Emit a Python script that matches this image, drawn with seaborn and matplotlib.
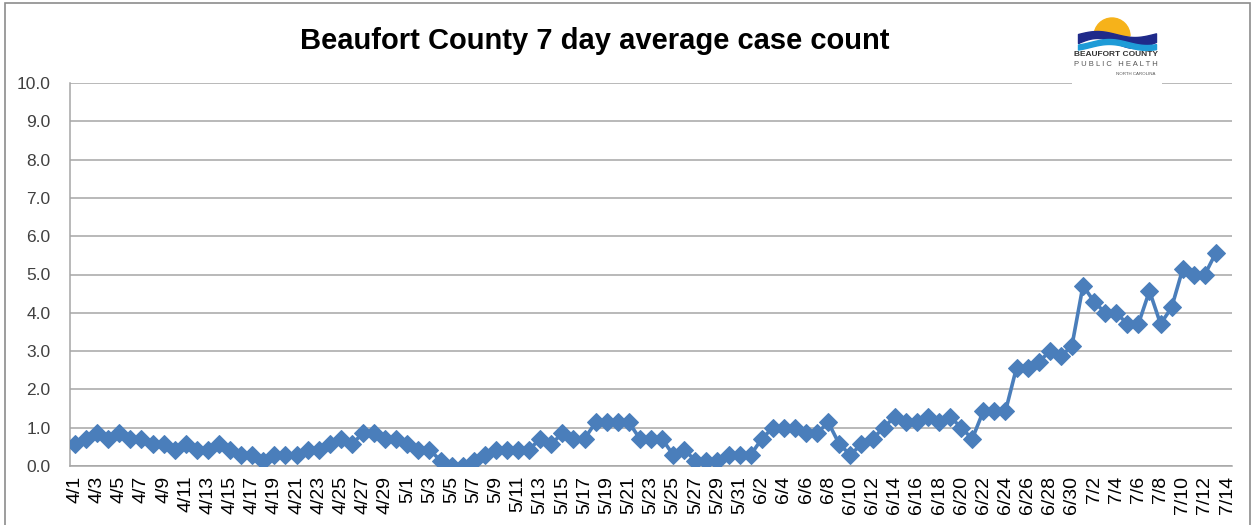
import numpy as np
import pandas as pd
import matplotlib
matplotlib.use('Agg')
import matplotlib.pyplot as plt
import seaborn as sns
from matplotlib.patches import Rectangle, Wedge

# 7 day average, 4/1 .. 7/13 (7/14 has no value yet)
dates = pd.date_range('2020-04-01', '2020-07-14')
labels = [f'{d.month}/{d.day}' for d in dates]

april = [0.57, 0.71, 0.86, 0.71, 0.86, 0.71, 0.71, 0.57, 0.57, 0.43,
         0.57, 0.43, 0.43, 0.57, 0.43, 0.29, 0.29, 0.14, 0.29, 0.29,
         0.29, 0.43, 0.43, 0.57, 0.71, 0.57, 0.86, 0.86, 0.71, 0.71]
may = [0.57, 0.43, 0.43, 0.14, 0.0, 0.0, 0.14, 0.29, 0.43, 0.43,
       0.43, 0.43, 0.71, 0.57, 0.86, 0.71, 0.71, 1.14, 1.14, 1.14,
       1.14, 0.71, 0.71, 0.71, 0.29, 0.43, 0.14, 0.14, 0.14, 0.29, 0.29]
june = [0.29, 0.71, 1.0, 1.0, 1.0, 0.86, 0.86, 1.14, 0.57, 0.29,
        0.57, 0.71, 1.0, 1.29, 1.14, 1.14, 1.29, 1.14, 1.29, 1.0,
        0.71, 1.43, 1.43, 1.43, 2.57, 2.57, 2.71, 3.0, 2.86, 3.14]
july = [4.71, 4.29, 4.0, 4.0, 3.71, 3.71, 4.57, 3.71, 4.14, 5.14,
        5.0, 5.0, 5.57, np.nan]

avg = april + may + june + july
df = pd.DataFrame({'pos': np.arange(len(labels)), 'date': labels, 'avg': avg})

W, H = 1251, 525
fig = plt.figure(figsize=(W / 100, H / 100), dpi=100)
fig.patch.set_facecolor('white')
fig.add_artist(Rectangle((5 / W, -0.01), 1 - 6 / W, 1 - 3 / H + 0.01,
                         transform=fig.transFigure, fill=False,
                         edgecolor='#8c8c8c', linewidth=1.2))

ax = fig.add_axes([70 / W, (H - 466) / H, (1232 - 70) / W, (466 - 83) / H])
sns.lineplot(data=df, x='pos', y='avg', ax=ax, color='#4a7ebb', linewidth=2.6,
             marker='D', markersize=9.5, markeredgecolor='#4a7ebb', zorder=3)

ax.set_ylim(0, 10)
ax.set_xlim(-0.45, len(labels) - 0.55)
ax.set_yticks(np.arange(0, 11, 1))
ax.set_yticklabels([f'{v:.1f}' for v in range(11)], fontsize=12.5, color='#404040',
                   family='Liberation Sans')
ax.set_xticks(df['pos'][::2])
ax.set_xticklabels(df['date'][::2], rotation=90, fontsize=14, color='black',
                   family='Liberation Sans')
ax.tick_params(axis='both', length=0)
ax.tick_params(axis='y', pad=14)
ax.tick_params(axis='x', pad=7)
ax.set_xlabel('')
ax.set_ylabel('')
ax.grid(axis='y', color='#a6a6a6', linewidth=1.1)
ax.set_axisbelow(True)
for s in ['top', 'right']:
    ax.spines[s].set_visible(False)
for s in ['left', 'bottom']:
    ax.spines[s].set_color('#a6a6a6')
    ax.spines[s].set_linewidth(1.1)

fig.text(595 / W, 1 - 41 / H, 'Beaufort County 7 day average case count',
         ha='center', va='center', fontsize=21, fontweight='bold',
         family='Liberation Sans')

# logo (pixel units, y measured up from 86 px below the top)
lg = fig.add_axes([1072 / W, 1 - 86 / H, 90 / W, 76 / H])
lg.set_xlim(0, 90)
lg.set_ylim(0, 76)
lg.axis('off')
lg.add_patch(Rectangle((0, 0), 90, 76, color='white', zorder=0))
lg.add_patch(Wedge((40, 50), 18, 0, 180, color='#f6b21a', zorder=1))
xs = np.linspace(6, 84, 100)
lg.fill_between(xs, 43 + 5 * np.sin((xs - 6) / 12), 52 + 3 * np.sin((xs - 6) / 12),
                color='#1f2a8a', zorder=2)
lg.fill_between(xs, 39 + 3 * np.sin((xs - 18) / 12), 44 + 3 * np.sin((xs - 18) / 12),
                color='#1e9bd7', zorder=2)
lg.text(44, 31, 'BEAUFORT COUNTY', ha='center', va='center', fontsize=6,
        fontweight='bold', color='#333333', family='Liberation Sans')
lg.text(44, 21, 'P U B L I C   H E A L T H', ha='center', va='center', fontsize=5.5,
        color='#555555', family='Liberation Sans')
lg.text(64, 12, 'NORTH CAROLINA', ha='center', va='center', fontsize=3.2,
        color='#555555', family='Liberation Sans')

fig.savefig('out.png', dpi=100)
